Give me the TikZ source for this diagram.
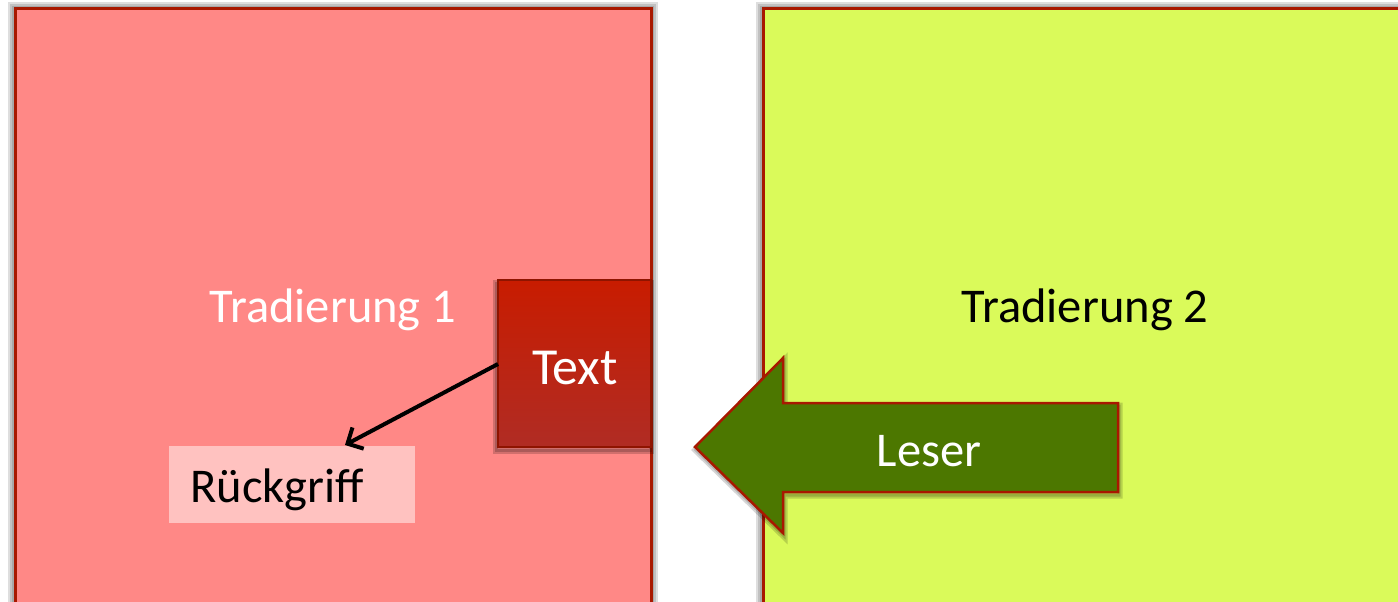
\documentclass[tikz,border=0pt]{standalone}
\usepackage{fontspec}
\setmainfont{Carlito}
\usetikzlibrary{arrows.meta}
\definecolor{boxred}{HTML}{FF8886}
\definecolor{boxgreen}{HTML}{DAFA5A}
\definecolor{edgered}{HTML}{A81800}
\definecolor{txttop}{HTML}{C81C00}
\definecolor{txtbot}{HTML}{B02C24}
\definecolor{arrgreen}{HTML}{4C7700}
\definecolor{rueck}{HTML}{FFC2C0}
\tikzset{
  big/.style={font=\fontsize{48.5}{52}\selectfont},
  panel/.style={draw=edgered, line width=3pt, inner sep=0pt},
  shadowlayer/.style={draw=black, line width=#1, opacity=0.13},
}
\begin{document}
\begin{tikzpicture}[x=1pt,y=-1pt]
\useasboundingbox (0,0) rectangle (1398,602);
\begin{scope}
\clip (0,0) rectangle (1398,602);
% shadows
\foreach \w in {3,6,10,14}{
  \draw[shadowlayer=\w pt] (15,9) rectangle (651,604);
  \draw[shadowlayer=\w pt] (763,9) rectangle (1420,604);
}
% panels
\draw[panel, fill=boxred] (15,9) rectangle (651,604);
\draw[panel, fill=boxgreen] (763,9) rectangle (1420,604);
\node[big, text=white] (t1) at (333,310) {Tradierung 1};
\node[big, text=black] (t2) at (1085,310) {Tradierung 2};
% Rueckgriff box
\fill[rueck] (169,446) rectangle (415,523);
\node[big, anchor=west, inner sep=0pt] (rg) at (190,490) {Rückgriff};
\coordinate (rgtop) at (345,445);
% Text box
\foreach \w in {3,7}{
  \draw[shadowlayer=\w pt, opacity=0.18] (496,283) rectangle (650,450);
}
\shade[top color=txttop, bottom color=txtbot] (498,280) rectangle (651,447);
\draw[draw=edgered!85!black, line width=2.5pt] (498,280) rectangle (651,447);
\node[big, text=white, font=\fontsize{52}{56}\selectfont] (tx) at (575,368) {Text};
\coordinate (txw) at (498,364);
\draw[line width=4pt, -{Straight Barb[length=12pt,width=24pt]}] (txw) -- (rgtop);
% Leser arrow
\foreach \w in {3,7}{
  \draw[shadowlayer=\w pt, opacity=0.16] (696,450) -- (784,361) -- (784,406) -- (1119,406) -- (1119,495) -- (784,495) -- (784,536) -- cycle;
}
\draw[fill=arrgreen, draw=edgered, line width=2.5pt, line join=miter]
  (695,447) -- (783,358) -- (783,403) -- (1118,403) -- (1118,492) -- (783,492) -- (783,533) -- cycle;
\node[big, text=white] (leser) at (929,451) {Leser};
\end{scope}
\end{tikzpicture}
\end{document}
